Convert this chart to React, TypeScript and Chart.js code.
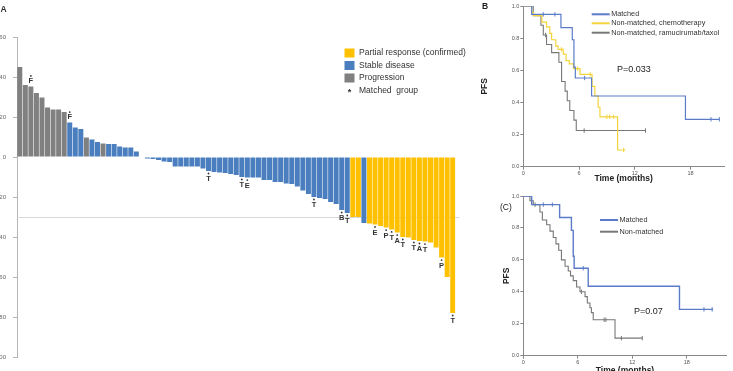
import React, { useEffect, useRef } from 'react';
import { Chart, registerables } from 'chart.js';

Chart.register(...registerables);
const FONT = '"Liberation Sans", Arial, Helvetica, sans-serif';
Chart.defaults.font.family = FONT;

// ---------------- Panel A: waterfall of best change in tumour size ----------------
const patientIds = Array.from({ length: 79 }, (_, i) => 'Pt ' + (i + 1));

const bestChange = [
  45, 36, 35.3, 32, 29.7, 24.8, 23.8, 23.8, 22.5, 17.2, 14.8, 14, 9.8, 8.7, 7.5, 6.8, 6.5, 6.5, 5.3, 4.8, 4.8, 2.8, 0,
  -0.8, -1, -1.5, -2.2, -2.5, -4.8, -4.8, -4.8, -4.8, -4.8, -5.8, -7, -7.5, -7.8, -8, -8.5, -9, -10, -10.3, -10.3,
  -10.3, -11.5, -11.5, -12.5, -12.5, -13.3, -13.5, -14.8, -16.7, -18.5, -20, -20.5, -21, -22.5, -23.5, -26.5, -28,
  -30, -30, -33, -33.2, -33.7, -34.5, -35.3, -36.2, -37.8, -40, -40.3, -41.5, -42, -42.3, -42.8, -45.3, -50.3, -60, -78,
];

// D = progression, S = stable disease, R = partial response (confirmed)
const responseCode = [
  'DDDDDDDDD', 'SSS', 'D', 'SS', 'D',
  'SSSSSSSSSS', 'SSSSSSSSSS', 'SSSSSSSSSS', 'SSSSSSSSSS', 'SSSS',
  'RR', 'S', 'RRRRRRRRRR', 'RRRRRR',
].join('');

const responseGroups = [
  { code: 'R', label: 'Partial response (confirmed)', color: '#FFC000' },
  { code: 'S', label: 'Stable disease', color: '#4A7EBF' },
  { code: 'D', label: 'Progression', color: '#808080' },
];

const matchedBars = [2, 9, 34, 40, 41, 53, 58, 59, 64, 66, 67, 68, 69, 71, 72, 73, 76, 78];
const matchedDrug = ['F', 'F', 'T', 'T', 'E', 'T', 'B', 'T', 'E', 'P', 'T', 'A', 'T', 'T', 'A', 'T', 'P', 'T'];

const waterfallDecor = {
  id: 'waterfallDecor',
  beforeDatasetsDraw(chart: any) {
    const { ctx, chartArea, scales } = chart;
    const py = Math.round(scales.y.getPixelForValue(-30)) + 0.5;
    ctx.save();
    ctx.strokeStyle = '#d8d8d8';
    ctx.lineWidth = 1;
    ctx.beginPath();
    ctx.moveTo(chartArea.left, py);
    ctx.lineTo(chartArea.right + 4, py);
    ctx.stroke();
    ctx.restore();
  },
  afterDatasetsDraw(chart: any) {
    const { ctx, scales } = chart;
    const { x, y } = scales;
    ctx.save();
    ctx.fillStyle = '#333';
    ctx.textAlign = 'center';
    ctx.font = `bold 7.5px ${FONT}`;
    matchedBars.forEach((bar, k) => {
      const v = bestChange[bar];
      const px = x.getPixelForValue(bar);
      const edge = y.getPixelForValue(v);
      if (v >= 0) {
        ctx.textBaseline = 'bottom';
        ctx.fillText(matchedDrug[k], px, edge - 2);
        ctx.beginPath();
        ctx.arc(px, edge - 10.5, 0.9, 0, Math.PI * 2);
        ctx.fill();
      } else {
        ctx.beginPath();
        ctx.arc(px, edge + 2.5, 0.9, 0, Math.PI * 2);
        ctx.fill();
        ctx.textBaseline = 'top';
        ctx.fillText(matchedDrug[k], px, edge + 4.5);
      }
    });

    // legend
    const lx = 367.5;
    const rows = [53, 65.5, 78];
    ctx.textAlign = 'left';
    ctx.textBaseline = 'middle';
    ctx.font = `8.5px ${FONT}`;
    responseGroups.forEach((g, i) => {
      ctx.fillStyle = g.color;
      ctx.fillRect(lx, rows[i] - 4.5, 10, 9);
      ctx.fillStyle = '#333';
      ctx.fillText(g.label, lx + 14.5, rows[i]);
    });
    ctx.font = `bold 9px ${FONT}`;
    ctx.textAlign = 'center';
    ctx.fillText('*', lx + 5, 92.5);
    ctx.textAlign = 'left';
    ctx.font = `8.5px ${FONT}`;
    ctx.fillText('Matched  group', lx + 14.5, 90.5);

    // panel letter
    ctx.font = `bold 8.5px ${FONT}`;
    ctx.fillText('A', 23.5, 10);
    ctx.restore();
  },
};

function waterfallConfig(): any {
  return {
    type: 'bar',
    data: {
      labels: patientIds,
      datasets: responseGroups.map((g) => ({
        label: g.label,
        data: bestChange.map((v, i) => (responseCode[i] === g.code ? v : null)),
        backgroundColor: g.color,
        borderWidth: 0,
        barPercentage: 0.9,
        categoryPercentage: 1,
      })),
    },
    options: {
      responsive: false,
      maintainAspectRatio: false,
      animation: false,
      layout: { padding: { top: 37, bottom: 14, left: 0, right: 21.5 } },
      plugins: { legend: { display: false }, tooltip: { enabled: false } },
      scales: {
        x: { stacked: true, display: false },
        y: {
          stacked: true,
          min: -100,
          max: 60,
          afterFit: (s: any) => {
            s.width = 40;
          },
          ticks: { stepSize: 20, color: '#666', font: { size: 6 }, padding: 7 },
          grid: { drawOnChartArea: false, drawTicks: true, tickLength: 4, tickColor: '#b5b5b5' },
          border: { display: true, color: '#b5b5b5', width: 1 },
        },
      },
    },
    plugins: [waterfallDecor],
  };
}

// ---------------- Panel B: PFS, three groups ----------------
const bMatchedTime = [0, 0.9, 4.05, 5.27, 5.45, 5.6, 7.35, 17.45, 21.1];
const bMatchedPFS = [1, 0.948, 0.865, 0.79, 0.62, 0.552, 0.44, 0.295, 0.295];
const bMatchedCensorTime = [2.15, 3.4, 6.6, 20.2, 21.1];
const bMatchedCensorPFS = [0.948, 0.948, 0.552, 0.295, 0.295];

const bChemoTime = [0, 0.9, 1.1, 2.0, 2.5, 2.85, 3.05, 3.5, 3.75, 4.3, 4.6, 4.95, 5.4, 6.1, 7.4, 7.7, 8.05, 8.25, 10.15, 11.0];
const bChemoPFS = [1, 0.96, 0.94, 0.9, 0.87, 0.83, 0.79, 0.75, 0.73, 0.7, 0.66, 0.64, 0.61, 0.575, 0.5, 0.44, 0.37, 0.31, 0.104, 0.104];
const bChemoCensorTime = [4.1, 5.85, 7.2, 9.0, 9.3, 9.7, 10.8];
const bChemoCensorPFS = [0.73, 0.61, 0.575, 0.31, 0.31, 0.31, 0.104];

const bRamTime = [0, 1.07, 1.9, 2.15, 2.5, 3.05, 3.83, 4.12, 4.5, 4.73, 5.0, 5.45, 5.7, 13.15];
const bRamPFS = [1, 0.94, 0.88, 0.82, 0.76, 0.71, 0.65, 0.53, 0.47, 0.41, 0.35, 0.29, 0.225, 0.225];
const bRamCensorTime = [2.4, 6.55, 13.15];
const bRamCensorPFS = [0.82, 0.225, 0.225];

// ---------------- Panel C: PFS, matched vs non-matched ----------------
const cMatchedTime = [0, 0.92, 4.0, 5.3, 5.5, 5.6, 7.15, 17.2, 20.9];
const cMatchedPFS = [1, 0.946, 0.865, 0.785, 0.623, 0.548, 0.435, 0.29, 0.29];
const cMatchedCensorTime = [2.2, 3.2, 6.6, 19.9, 20.8];
const cMatchedCensorPFS = [0.946, 0.946, 0.548, 0.29, 0.29];

const cNonTime = [0, 0.73, 1.1, 1.83, 2.1, 2.57, 2.94, 3.3, 3.6, 3.9, 4.2, 4.6, 4.95, 5.2, 5.5, 5.87, 6.24, 6.8, 7.05, 7.34, 7.5, 7.7, 10.1, 13.1];
const cNonPFS = [1, 0.97, 0.946, 0.9, 0.85, 0.82, 0.78, 0.74, 0.7, 0.66, 0.6, 0.56, 0.53, 0.5, 0.47, 0.43, 0.4, 0.37, 0.33, 0.3, 0.27, 0.225, 0.11, 0.11];
const cNonCensorTime = [1.3, 6.4, 8.9, 9.1, 10.8, 13.1];
const cNonCensorPFS = [0.946, 0.4, 0.225, 0.225, 0.11, 0.11];

const xTickMonths = [0, 6, 12, 18];

const BLUE = '#5B7BC9';
const YELLOW = '#F4D43C';
const GRAY = '#777777';

type Curve = {
  label: string;
  color: string;
  width: number;
  time: number[];
  pfs: number[];
  censorTime: number[];
  censorPFS: number[];
};

type Panel = {
  id: string;
  letter: string;
  letterX: number;
  letterY: number;
  letterBold: boolean;
  xMax: number;
  padTop: number;
  padRight: number;
  axisHeight: number;
  xTitlePad: number;
  yTitlePad: number;
  legendX: number;
  legendY: number[];
  pValue: string;
  pX: number;
  pY: number;
  curves: Curve[];
};

const panelB: Panel = {
  id: 'B',
  letter: 'B',
  letterX: 2,
  letterY: 6.5,
  letterBold: true,
  xMax: 21.6,
  padTop: 6,
  padRight: 9,
  axisHeight: 18.3,
  xTitlePad: 1,
  yTitlePad: 0,
  legendX: 111.7,
  legendY: [14.3, 23.3, 32.7],
  pValue: 'P=0.033',
  pX: 137,
  pY: 69.5,
  curves: [
    { label: 'Matched', color: BLUE, width: 1.2, time: bMatchedTime, pfs: bMatchedPFS, censorTime: bMatchedCensorTime, censorPFS: bMatchedCensorPFS },
    { label: 'Non-matched, chemotherapy', color: YELLOW, width: 1.2, time: bChemoTime, pfs: bChemoPFS, censorTime: bChemoCensorTime, censorPFS: bChemoCensorPFS },
    { label: 'Non-matched, ramucirumab/taxol', color: GRAY, width: 1.1, time: bRamTime, pfs: bRamPFS, censorTime: bRamCensorTime, censorPFS: bRamCensorPFS },
  ],
};

const panelC: Panel = {
  id: 'C',
  letter: '(C)',
  letterX: 20,
  letterY: 23,
  letterBold: false,
  xMax: 22.4,
  padTop: 11,
  padRight: 6.3,
  axisHeight: 24.3,
  xTitlePad: 4,
  yTitlePad: 22,
  legendX: 120,
  legendY: [35, 46.7],
  pValue: 'P=0.07',
  pX: 154,
  pY: 126.7,
  curves: [
    { label: 'Matched', color: BLUE, width: 1.4, time: cMatchedTime, pfs: cMatchedPFS, censorTime: cMatchedCensorTime, censorPFS: cMatchedCensorPFS },
    { label: 'Non-matched', color: GRAY, width: 1.1, time: cNonTime, pfs: cNonPFS, censorTime: cNonCensorTime, censorPFS: cNonCensorPFS },
  ],
};

function kmDecor(p: Panel) {
  return {
    id: 'kmDecor' + p.id,
    afterDraw(chart: any) {
      const ctx = chart.ctx;
      ctx.save();
      ctx.fillStyle = '#222';
      ctx.textAlign = 'left';
      ctx.textBaseline = 'middle';
      ctx.font = `${p.letterBold ? 'bold ' : ''}8.5px ${FONT}`;
      ctx.fillText(p.letter, p.letterX, p.letterY);

      ctx.font = `7.3px ${FONT}`;
      p.curves.forEach((c, i) => {
        const y = p.legendY[i];
        ctx.strokeStyle = c.color;
        ctx.lineWidth = 2;
        ctx.beginPath();
        ctx.moveTo(p.legendX, y);
        ctx.lineTo(p.legendX + 18, y);
        ctx.stroke();
        ctx.fillStyle = '#333';
        ctx.fillText(c.label, p.legendX + 19.5, y);
      });

      ctx.fillStyle = '#222';
      ctx.font = `9px ${FONT}`;
      ctx.fillText(p.pValue, p.pX, p.pY);
      ctx.restore();
    },
  };
}

function kmConfig(p: Panel): any {
  const datasets: any[] = [];
  p.curves.forEach((c) => {
    datasets.push({
      label: c.label,
      data: c.time.map((t, i) => ({ x: t, y: c.pfs[i] })),
      showLine: true,
      stepped: true,
      borderColor: c.color,
      backgroundColor: c.color,
      borderWidth: c.width,
      pointRadius: 0,
      pointHoverRadius: 0,
      fill: false,
    });
    datasets.push({
      label: c.label + ' (censored)',
      data: c.censorTime.map((t, i) => ({ x: t, y: c.censorPFS[i] })),
      showLine: false,
      pointStyle: 'line',
      rotation: 90,
      pointRadius: 2.2,
      pointHoverRadius: 2.2,
      borderColor: c.color,
      backgroundColor: c.color,
      pointBorderWidth: 1,
    });
  });
  return {
    type: 'scatter',
    data: { datasets },
    options: {
      responsive: false,
      maintainAspectRatio: false,
      animation: false,
      layout: { padding: { top: p.padTop, right: p.padRight, left: 0, bottom: 0 } },
      plugins: { legend: { display: false }, tooltip: { enabled: false } },
      scales: {
        x: {
          type: 'linear',
          min: 0,
          max: p.xMax,
          afterBuildTicks: (s: any) => {
            s.ticks = xTickMonths.map((v) => ({ value: v }));
          },
          afterFit: (s: any) => {
            s.height = p.axisHeight;
          },
          ticks: { color: '#555', font: { size: 5.5 }, padding: 0, maxRotation: 0, autoSkip: false },
          grid: { drawOnChartArea: false, drawTicks: true, tickLength: 3, tickColor: '#888' },
          border: { display: true, color: '#888', width: 1 },
          title: {
            display: true,
            text: 'Time (months)',
            color: '#222',
            font: { size: 8.5, weight: 'bold' },
            padding: { top: 0, bottom: p.xTitlePad },
          },
        },
        y: {
          min: 0,
          max: 1,
          afterFit: (s: any) => {
            s.width = 43.3;
          },
          ticks: {
            stepSize: 0.2,
            color: '#555',
            font: { size: 5.5 },
            padding: 1,
            callback: (v: any) => Number(v).toFixed(1),
          },
          grid: { drawOnChartArea: false, drawTicks: true, tickLength: 3, tickColor: '#888' },
          border: { display: true, color: '#888', width: 1 },
          title: {
            display: true,
            text: 'PFS',
            color: '#222',
            font: { size: 8.5, weight: 'bold' },
            padding: { top: p.yTitlePad, bottom: 0 },
          },
        },
      },
    },
    plugins: [kmDecor(p)],
  };
}

export default function App() {
  const aRef = useRef<HTMLCanvasElement>(null);
  const bRef = useRef<HTMLCanvasElement>(null);
  const cRef = useRef<HTMLCanvasElement>(null);

  useEffect(() => {
    const charts = [
      new Chart(aRef.current as HTMLCanvasElement, waterfallConfig()),
      new Chart(bRef.current as HTMLCanvasElement, kmConfig(panelB)),
      new Chart(cRef.current as HTMLCanvasElement, kmConfig(panelC)),
    ];
    return () => charts.forEach((c) => c.destroy());
  }, []);

  return (
    <div
      style={{
        position: 'fixed',
        left: 0,
        top: 0,
        width: 733,
        height: 371,
        overflow: 'hidden',
        background: '#fff',
      }}
    >
      <canvas ref={aRef} width={500} height={371} style={{ position: 'absolute', left: -23, top: 0 }} />
      <canvas ref={bRef} width={253} height={185} style={{ position: 'absolute', left: 480, top: 0 }} />
      <canvas ref={cRef} width={253} height={195} style={{ position: 'absolute', left: 480, top: 185 }} />
    </div>
  );
}
